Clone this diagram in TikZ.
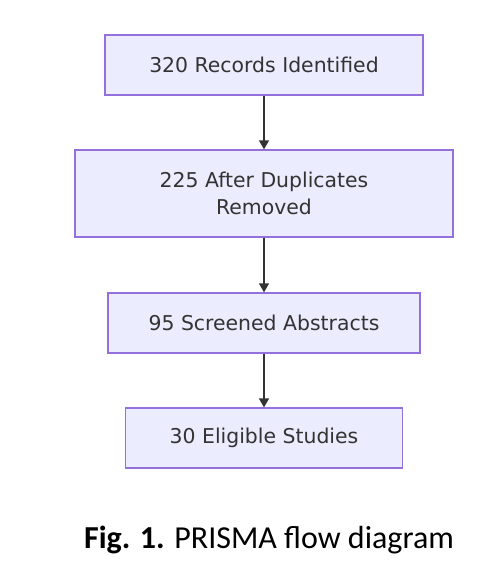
\documentclass[tikz,border=0pt]{standalone}
\usepackage{fontspec}
\setmainfont{Carlito}
\newfontfamily\boxfont{DejaVu Sans}
\usetikzlibrary{arrows.meta}
\definecolor{boxfill}{HTML}{ECECFF}
\definecolor{boxline}{HTML}{9370DB}
\definecolor{ink}{HTML}{333333}
\tikzset{
  stage/.style={draw=boxline, fill=boxfill, line width=1.3pt, inner sep=0pt,
    font=\boxfont\fontsize{20.4}{27}\selectfont, text=ink, align=center},
  flow/.style={draw=ink, line width=1.4pt, -{Triangle[length=9pt,width=10pt]}}
}
\begin{document}
\begin{tikzpicture}[x=1pt,y=-1pt]
\useasboundingbox (0,0) rectangle (502,578);
\node[stage, minimum width=318pt, minimum height=60pt] (a) at (264,65) {320 Records Identified};
\node[stage, minimum width=378pt, minimum height=87pt] (b) at (264,193.5) {225 After Duplicates\\Removed};
\node[stage, minimum width=312pt, minimum height=60pt] (c) at (264,323) {95 Screened Abstracts};
\node[stage, minimum width=277pt, minimum height=60pt] (d) at (264,438) {30 Eligible Studies};
\draw[flow] (a) -- (b);
\draw[flow] (b) -- (c);
\draw[flow] (c) -- (d);
\node[font=\fontsize{32}{38}\selectfont, text=black] (cap) at (269,540) {\textbf{Fig. 1.} PRISMA flow diagram};
\end{tikzpicture}
\end{document}
